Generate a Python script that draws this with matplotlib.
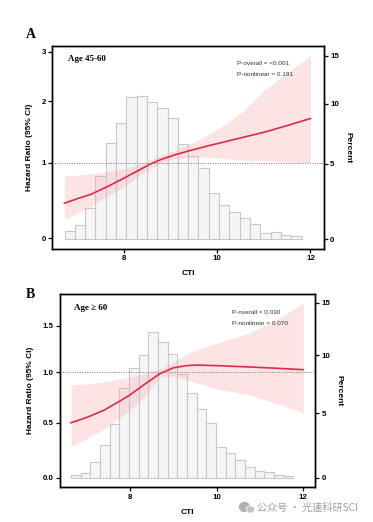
import numpy as np
import matplotlib
matplotlib.use('Agg')
import matplotlib.pyplot as plt
from matplotlib.patches import Ellipse

plt.rcParams['font.family'] = ['Liberation Sans', 'DejaVu Sans']

# ---- panel A : age 45-60 ----
a_cti = [6.72, 7.0, 7.3, 7.7, 8.0, 8.3, 8.56, 8.8, 9.1, 9.4, 9.8, 10.2, 10.5, 11.0, 11.5, 12.0]
a_hr = [0.44, 0.50, 0.56, 0.68, 0.78, 0.885, 0.98, 1.05, 1.12, 1.18, 1.255, 1.325, 1.38, 1.47, 1.58, 1.70]
a_lo = [0.24, 0.31, 0.40, 0.55, 0.66, 0.80, 0.92, 1.00, 1.06, 1.085, 1.08, 1.06, 1.04, 1.03, 1.01, 1.00]
a_hi = [0.81, 0.82, 0.84, 0.88, 0.91, 0.97, 1.04, 1.11, 1.19, 1.28, 1.43, 1.62, 1.79, 2.20, 2.55, 2.91]
a_bin_start = 6.722
a_bin_width = 0.2211
a_pct = [0.46, 0.83, 1.91, 4.12, 6.60, 8.27, 10.64, 10.73, 10.19, 9.60, 8.76, 6.52,
         5.61, 4.68, 2.91, 2.11, 1.67, 1.27, 0.90, 0.34, 0.42, 0.22, 0.18]

# ---- panel B : age >= 60 ----
b_cti = [6.64, 7.0, 7.4, 7.77, 8.0, 8.3, 8.69, 9.0, 9.3, 9.54, 10.0, 10.77, 11.5, 12.0]
b_hr = [0.50, 0.55, 0.62, 0.71, 0.77, 0.865, 0.985, 1.045, 1.068, 1.074, 1.068, 1.054, 1.038, 1.026]
b_lo = [0.28, 0.35, 0.44, 0.55, 0.62, 0.74, 0.95, 0.96, 0.92, 0.89, 0.83, 0.77, 0.67, 0.59]
b_hi = [0.87, 0.88, 0.90, 0.93, 0.95, 0.98, 1.03, 1.10, 1.19, 1.24, 1.305, 1.42, 1.60, 1.76]
b_bin_start = 6.638
b_bin_width = 0.223
b_pct = [0.20, 0.32, 1.15, 2.44, 4.12, 7.07, 8.80, 10.00, 12.16, 11.22, 10.06, 8.28,
         6.65, 5.31, 4.18, 2.29, 1.83, 1.32, 0.77, 0.52, 0.44, 0.18, 0.12]


def expscale(r, step):
    '''compressed y scale: each step is r times the previous one'''
    k = np.log(r) / step

    def fwd(y):
        return -np.exp(k * np.asarray(y, dtype=float))

    def inv(z):
        return np.log(np.clip(-np.asarray(z, dtype=float), 1e-12, None)) / k
    return fwd, inv


def panel(rect, cti, hr, lo, hi, bstart, bwidth, pct, xlim, ylim, yticks, yticklabels,
          pscale, hscale, plim, letter, age, pvals, letter_xy, age_xy, p_xy):
    ax = fig.add_axes(rect)
    ax2 = ax.twinx()
    ax.set_zorder(ax2.get_zorder() + 1)
    ax.patch.set_visible(False)

    # histogram on the percent axis
    ax2.set_yscale('function', functions=expscale(*pscale))
    edges = bstart + bwidth * np.arange(len(pct))
    ax2.bar(edges, pct, width=bwidth, align='edge', color='#F5F4F6',
            edgecolor='#C8C8C8', linewidth=0.8)
    ax2.set_ylim(*plim)
    ax2.set_yticks([0, 5, 10, 15])

    # spline curve on the hazard ratio axis
    ax.set_yscale('function', functions=expscale(*hscale))
    ax.fill_between(cti, lo, hi, color='#F7A6AC', alpha=0.3, linewidth=0)
    ax.plot(cti, hr, color='#DC2B4A', linewidth=1.2)
    ax.axhline(1, color='#777777', linestyle=(0, (1, 1.5)), linewidth=0.7)
    ax.set_xlim(*xlim)
    ax.set_ylim(*ylim)
    ax.set_yticks(yticks)
    ax.set_yticklabels(yticklabels)
    ax.set_xticks([8, 10, 12])

    for a in (ax, ax2):
        a.tick_params(labelsize=5.7, length=3, width=0.9, pad=1.5)
        for s in a.spines.values():
            s.set_linewidth(1.0)
    for t in ax.get_xticklabels() + ax.get_yticklabels() + ax2.get_yticklabels():
        t.set_fontweight('bold')

    ax.set_xlabel('CTI', fontsize=6, fontweight='bold', labelpad=6)
    ax.set_ylabel('Hazard Ratio (95% CI)', fontsize=6, fontweight='bold', labelpad=6)
    ax2.set_ylabel('Percent', fontsize=6, fontweight='bold', rotation=270, labelpad=9)

    fig.text(letter_xy[0], letter_xy[1], letter, fontsize=10, fontweight='bold',
             family='Liberation Serif', ha='left', va='center')
    fig.text(age_xy[0], age_xy[1], age, fontsize=6.5, fontweight='bold',
             family=['Liberation Serif', 'DejaVu Serif'], ha='left', va='center')
    fig.text(p_xy[0], p_xy[1], pvals[0], fontsize=4.6, color='#333333', va='center')
    fig.text(p_xy[0], p_xy[1] - 10.5 / 522, pvals[1], fontsize=4.6, color='#333333',
             va='center')
    return ax, ax2


W, H = 373, 522
fig = plt.figure(figsize=(W / 100, H / 100), dpi=100)


def fx(px):
    return px / W


def fy(py):
    return 1 - py / H


panel([fx(52.3), fy(248.7), fx(324) - fx(52.3), fy(46) - fy(248.7)],
      a_cti, a_hr, a_lo, a_hi, a_bin_start, a_bin_width, a_pct,
      (6.46, 12.29), (-0.12, 3.13), [0, 1, 2, 3], ['0', '1', '2', '3'],
      (0.8, 5), (0.81, 1), (-0.57, 16.17), 'A', 'Age 45-60',
      ['P-overall = <0.001', 'P-nonlinear = 0.191'],
      (fx(26), fy(34)), (fx(67.5), fy(59)), (fx(237), fy(63.5)))

panel([fx(60), fy(487.3), fx(315) - fx(60), fy(294) - fy(487.3)],
      b_cti, b_hr, b_lo, b_hi, b_bin_start, b_bin_width, b_pct,
      (6.385, 12.27), (-0.083, 1.866), [0, 0.5, 1.0, 1.5], ['0.0', '0.5', '1.0', '1.5'],
      (0.9, 5), (0.92, 0.5), (-0.70, 15.89), 'B', 'Age \u2265 60',
      ['P-overall = 0.030', 'P-nonlinear = 0.070'],
      (fx(26), fy(295)), (fx(74), fy(307.5)), (fx(232.5), fy(312.7)))

# watermark (icon + text)
fig.patches.append(Ellipse((fx(244.5), fy(507)), fx(10), 9 / H, color='#B0B0B0',
                           transform=fig.transFigure, figure=fig))
fig.patches.append(Ellipse((fx(250.5), fy(509.5)), fx(8.5), 7.5 / H, color='#C4C4C4',
                           ec='white', lw=0.6, transform=fig.transFigure, figure=fig))
fig.text(fx(257), fy(508), '公众号 · 光速科研SCI', fontsize=7.3, color='#A0A0A0',
         family=['Noto Sans CJK SC', 'DejaVu Sans'], va='center')

fig.savefig('out.png', dpi=100)
